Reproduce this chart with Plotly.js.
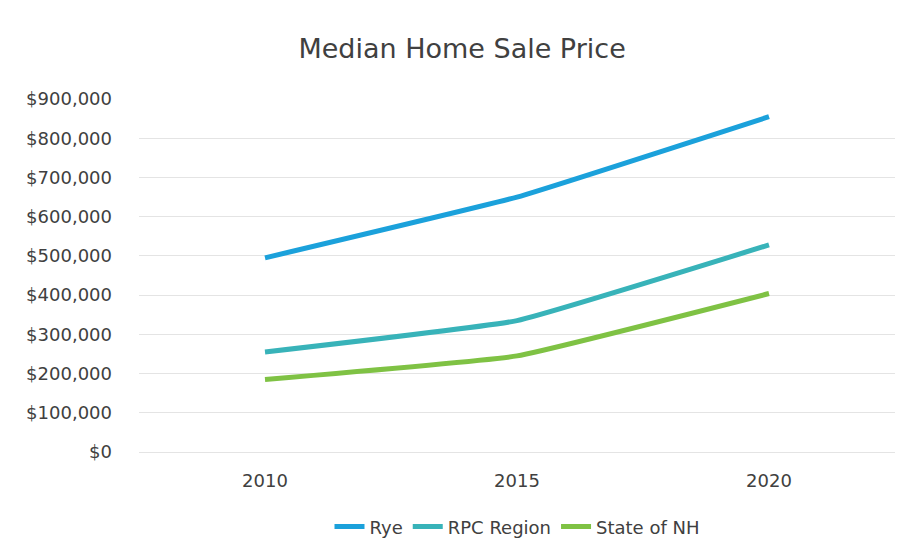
<!DOCTYPE html>
<html>
<head>
<meta charset="utf-8">
<script src="https://cdn.plot.ly/plotly-3.0.1.min.js"></script>
<style>html,body{margin:0;padding:0;background:#fff;}#chart{width:915px;height:560px;}</style>
</head>
<body>
<div id="chart"></div>
<script>
const years = ["2010", "2015", "2020"];
const rye = [495000, 650000, 855000];
const rpcRegion = [255000, 335000, 528000];
const stateNH = [185000, 245000, 404000];
const seriesNames = ["Rye", "RPC Region", "State of NH"];
const yTickVals = [0, 100000, 200000, 300000, 400000, 500000, 600000, 700000, 800000, 900000];
const yTickText = ["$0", "$100,000", "$200,000", "$300,000", "$400,000", "$500,000", "$600,000", "$700,000", "$800,000", "$900,000"];

const colors = ["#1ba1db", "#38b3b9", "#7fc244"];
const font = "'DejaVu Sans', sans-serif";
const data = [rye, rpcRegion, stateNH].map((vals, i) => ({
  x: years, y: vals, name: seriesNames[i], type: "scatter", mode: "lines",
  line: {color: colors[i], width: 5, shape: "spline", smoothing: 0.3}
}));

const layout = {
  width: 915, height: 560,
  margin: {l: 139, r: 20, t: 99, b: 108},
  paper_bgcolor: "#fff", plot_bgcolor: "#fff",
  title: {text: "Median Home Sale Price", x: 0.505, xanchor: "center", y: 0.914, yanchor: "middle",
          font: {family: font, size: 27, color: "#404040"}},
  xaxis: {type: "category", range: [-0.5, 2.5], showgrid: false, zeroline: false, showline: false,
          ticks: "", tickfont: {family: font, size: 18, color: "#404040"}, ticklabelstandoff: 16},
  yaxis: {range: [0, 900000], tickvals: yTickVals, ticktext: yTickText, showgrid: true,
          gridcolor: "#e4e4e4", gridwidth: 1, zeroline: true, zerolinecolor: "#e4e4e4", zerolinewidth: 1,
          showline: false, ticks: "",
          tickfont: {family: font, size: 18, color: "#404040"}, ticklabelstandoff: 26},
  showlegend: true,
  legend: {orientation: "h", x: 0.5, xanchor: "center", y: -0.212, yanchor: "middle",
           font: {family: font, size: 18, color: "#404040"}, tracegroupgap: 0}
};
Plotly.newPlot("chart", data, layout, {displayModeBar: false, staticPlot: true});
</script>
</body>
</html>
